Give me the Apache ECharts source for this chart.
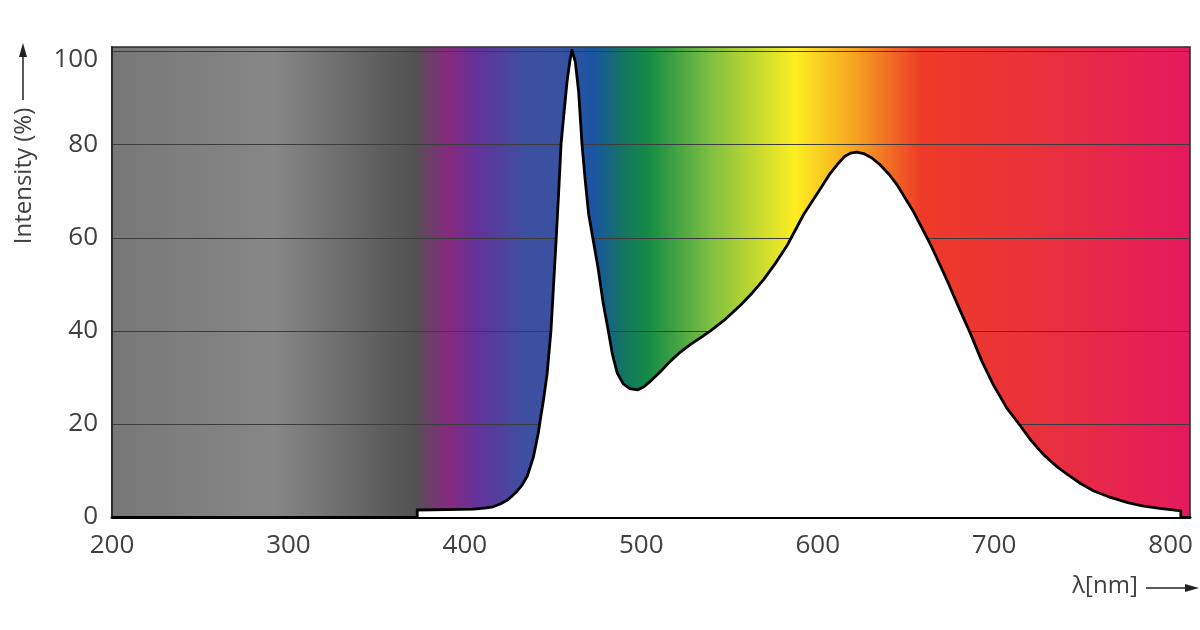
<!DOCTYPE html>
<html>
<head>
<meta charset="utf-8">
<script src="https://cdn.jsdelivr.net/npm/echarts@6/dist/echarts.min.js"></script>
<style>
html,body{margin:0;padding:0;background:#fff;}
#chart{width:1200px;height:630px;}
</style>
</head>
<body>
<div id="chart"></div>
<script>
// Wavelength (nm) and relative intensity (%)
const wavelengths = [373, 373, 390, 405, 411, 416, 420, 424, 427, 429.7, 432.5, 435.4, 438.8, 441.6, 442.8, 444.5, 446.6, 448.8, 450.3, 451.8, 453.2, 454.5, 455.6, 457.9, 459.5, 460.7, 462.6, 464.5, 466.4, 468.3, 470.2, 472.5, 475.5, 478.5, 481.3, 483.6, 486.4, 489.8, 493.5, 497.8, 501.5, 505.2, 510.8, 516.5, 522, 527.9, 533.5, 539.2, 547, 556.2, 563, 569.3, 576, 582.9, 592, 601.6, 607, 611.2, 615, 618.6, 622, 626, 630.5, 635.6, 640.5, 645.3, 654.3, 664, 673.6, 680, 686.7, 693, 699.7, 707, 715, 721, 728, 735, 741.7, 749, 756.5, 766, 775.7, 784, 792.7, 800, 805.8, 805.8];
const intensities = [0, 1.5, 1.6, 1.7, 1.9, 2.2, 2.8, 3.6, 4.6, 5.6, 6.9, 8.8, 12.8, 18.0, 21, 25, 30.7, 40, 50, 60, 70, 80, 84.5, 93.5, 98, 100.3, 97.8, 91.3, 80, 72, 65, 60, 53.5, 45.7, 40, 35, 30.9, 28.6, 27.6, 27.3, 28, 29.2, 31.2, 33.5, 35.4, 37.1, 38.5, 40, 42.3, 45.5, 48.2, 51, 54.5, 58.5, 65, 70.6, 73.8, 75.8, 77.4, 78.2, 78.4, 78.1, 77.2, 75.6, 73.6, 71.2, 65.6, 58.5, 50.6, 45, 39.3, 33.5, 28.3, 23.5, 19.5, 16.4, 13.4, 11, 9.1, 7.2, 5.6, 4.2, 3.1, 2.4, 1.9, 1.6, 1.3, 0];
const xTicks = [200, 300, 400, 500, 600, 700, 800];
const yTicks = [0, 20, 40, 60, 80, 100];

const spectrumData = wavelengths.map((w, i) => [w, intensities[i]]);

const spectrumGradient = new echarts.graphic.LinearGradient(0, 0, 1, 0, [
  {offset: 0.00, color: '#777777'},
  {offset: 0.15, color: '#878787'},
  {offset: 0.25, color: '#5e5e5e'},
  {offset: 0.28, color: '#525252'},
  {offset: 0.313, color: '#86297f'},
  {offset: 0.338, color: '#64329a'},
  {offset: 0.383, color: '#3d4fa0'},
  {offset: 0.415, color: '#3a51a1'},
  {offset: 0.447, color: '#1a55a3'},
  {offset: 0.475, color: '#137560'},
  {offset: 0.499, color: '#168d45'},
  {offset: 0.557, color: '#82c141'},
  {offset: 0.633, color: '#fdee21'},
  {offset: 0.691, color: '#f5a021'},
  {offset: 0.75, color: '#ee3b28'},
  {offset: 0.865, color: '#e8303c'},
  {offset: 1.00, color: '#e5195f'}
]);

const FONT = 'Open Sans';
const chart = echarts.init(document.getElementById('chart'), null, {renderer: 'canvas'});
chart.setOption({
  animation: false,
  backgroundColor: '#ffffff',
  grid: {
    left: 112, right: 10, top: 47, bottom: 113,
    show: true,
    backgroundColor: spectrumGradient,
    borderColor: '#2a2a2a',
    borderWidth: 1.5
  },
  xAxis: {
    type: 'value',
    min: 200, max: 811, interval: 100,
    axisLine: {show: true, onZero: false, lineStyle: {color: '#000', width: 3}},
    axisTick: {show: false},
    splitLine: {show: false},
    axisLabel: {
      margin: 16, fontSize: 26, color: '#404040', fontFamily: FONT,
      formatter: v => xTicks.includes(v) ? String(v) : ''
    }
  },
  yAxis: {
    type: 'value',
    min: 0, max: 101, interval: 20,
    axisLine: {show: true, lineStyle: {color: '#2a2a2a', width: 2}},
    axisTick: {show: false},
    splitLine: {show: true, lineStyle: {color: '#3c3c3c', width: 1.2}},
    axisLabel: {
      margin: 14, fontSize: 26, color: '#404040', fontFamily: FONT,
      formatter: v => v === 100 ? '{t|100}' : (yTicks.includes(v) ? String(v) : ''),
      rich: {t: {fontSize: 26, color: '#404040', fontFamily: FONT, padding: [16, 0, 0, 0]}}
    }
  },
  series: [{
    type: 'line',
    data: spectrumData,
    symbol: 'none',
    smooth: false,
    z: 3,
    lineStyle: {color: '#000', width: 2.8, join: 'round'},
    areaStyle: {color: '#ffffff', opacity: 1}
  }],
  graphic: [
    {type: 'text', x: 24, y: 176, rotation: Math.PI / 2,
     style: {text: 'Intensity (%)', fontSize: 24, fontFamily: FONT, fill: '#404040', textAlign: 'center', textVerticalAlign: 'middle'}},
    {type: 'line', shape: {x1: 23, y1: 100, x2: 23, y2: 55}, style: {stroke: '#222', lineWidth: 1.5}},
    {type: 'polygon', shape: {points: [[23, 43], [19, 57], [27, 57]]}, style: {fill: '#222'}},
    {type: 'text', x: 1105, y: 586,
     style: {text: 'λ[nm]', fontSize: 24, fontFamily: FONT, fill: '#404040', textAlign: 'center', textVerticalAlign: 'middle'}},
    {type: 'line', shape: {x1: 1146, y1: 588, x2: 1188, y2: 588}, style: {stroke: '#222', lineWidth: 1.5}},
    {type: 'polygon', shape: {points: [[1199, 588], [1185, 584], [1185, 592]]}, style: {fill: '#222'}}
  ]
});
</script>
</body>
</html>
